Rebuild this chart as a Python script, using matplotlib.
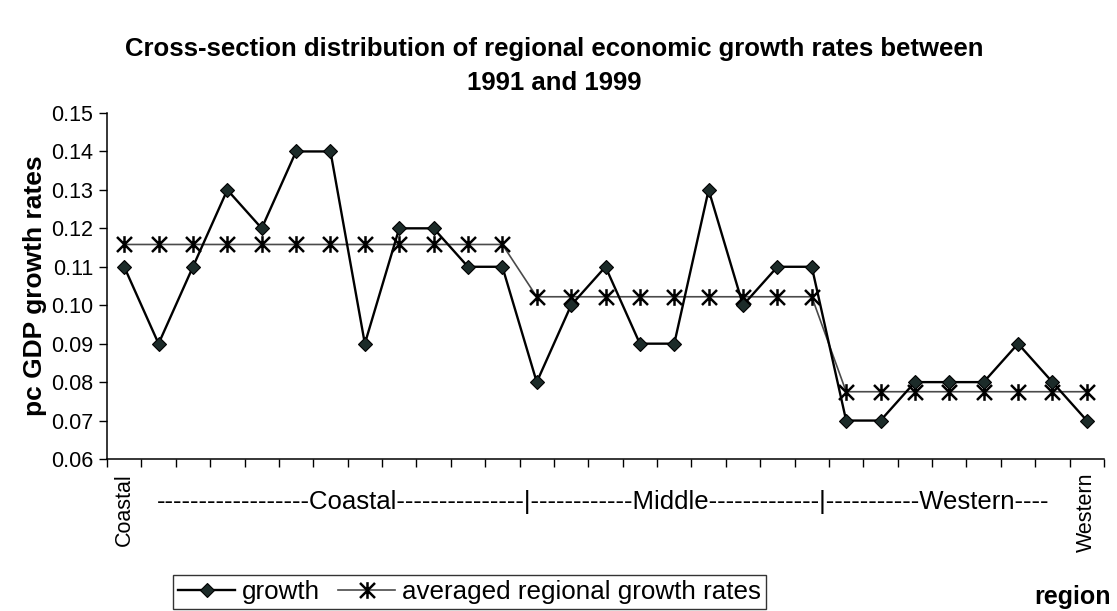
import numpy as np
import matplotlib
matplotlib.use("Agg")
import matplotlib.pyplot as plt
from matplotlib.path import Path

plt.rcParams['font.family'] = ['Liberation Sans', 'DejaVu Sans']

# per-capita GDP growth rates by province, ordered coastal -> middle -> western
growth = [0.11, 0.09, 0.11, 0.13, 0.12, 0.14, 0.14, 0.09, 0.12, 0.12, 0.11, 0.11,
          0.08, 0.10, 0.11, 0.09, 0.09, 0.13, 0.10, 0.11, 0.11,
          0.07, 0.07, 0.08, 0.08, 0.08, 0.09, 0.08, 0.07]
# regional averages repeated over each region's provinces
avg_growth = [0.1158] * 12 + [0.1022] * 9 + [0.0775] * 8

y_ticks = [0.06, 0.07, 0.08, 0.09, 0.10, 0.11, 0.12, 0.13, 0.14, 0.15]
first_label = "Coastal"
last_label = "Western"
region_band = "------------------Coastal---------------|------------Middle-------------|-----------Western----"

# asterisk marker: vertical bar plus two diagonals
asterisk = Path([(0, -1), (0, 1), (-0.9, -0.9), (0.9, 0.9), (-0.9, 0.9), (0.9, -0.9)],
                [Path.MOVETO, Path.LINETO, Path.MOVETO, Path.LINETO, Path.MOVETO, Path.LINETO])

x = np.arange(1, len(growth) + 1)

fig = plt.figure(figsize=(11.17, 6.11), dpi=100)
ax = fig.add_axes([107 / 1117, 1 - 459 / 611, 997 / 1117, 346 / 611])

ax.plot(x, avg_growth, color='#4a4a4a', lw=1.2, marker=asterisk, ms=12,
        mew=1.8, mfc='none', mec='black', label='averaged regional growth rates', zorder=2)
ax.plot(x, growth, color='black', lw=1.7, marker='D', ms=7.5,
        mfc='#1c2b29', mec='black', mew=0.8, label='growth', zorder=3)

ax.set_xlim(0.5, len(growth) + 0.5)
ax.set_ylim(0.06, 0.15)
ax.set_yticks(y_ticks)
ax.set_yticklabels([f"{v:.2f}" for v in y_ticks], fontsize=15.5)
ax.tick_params(axis='y', direction='out', length=6, width=1, pad=4)

# category boundaries get the tick marks, labels only at both ends
ax.set_xticks(np.arange(0.5, len(growth) + 1, 1.0))
ax.set_xticklabels([])
ax.tick_params(axis='x', direction='out', length=6, width=1)
for lbl, xv in [(first_label, 1), (last_label, len(growth))]:
    ax.text(xv, -0.04, lbl, transform=ax.get_xaxis_transform(), rotation=90,
            ha='center', va='top', fontsize=15.5)
ax.text(0.498, -0.125, region_band, transform=ax.transAxes, ha='center', va='center',
        fontsize=18.5)

for side in ['top', 'right']:
    ax.spines[side].set_visible(False)
for side in ['left', 'bottom']:
    ax.spines[side].set_linewidth(1.1)

ax.set_ylabel("pc GDP growth rates", fontsize=19, fontweight='bold', labelpad=3)
fig.text(554 / 1117, 1 - 66 / 611,
         "Cross-section distribution of regional economic growth rates between\n1991 and 1999",
         fontsize=18.5, fontweight='bold', ha='center', va='center', linespacing=1.5)
fig.text(1072 / 1117, 1 - 597 / 611, "region", fontsize=18, fontweight='bold',
         ha='center', va='center')

handles, labels = ax.get_legend_handles_labels()
leg = fig.legend(handles[::-1], labels[::-1], ncol=2, loc='lower left',
                 bbox_to_anchor=(173 / 1117, 1 - 609 / 611), fontsize=18.7,
                 frameon=True, fancybox=False, edgecolor='black', handlelength=2.2,
                 handletextpad=0.25, columnspacing=0.7, borderpad=0.2, borderaxespad=0)
leg.get_frame().set_linewidth(1.0)

fig.savefig("out.png", dpi=100)
